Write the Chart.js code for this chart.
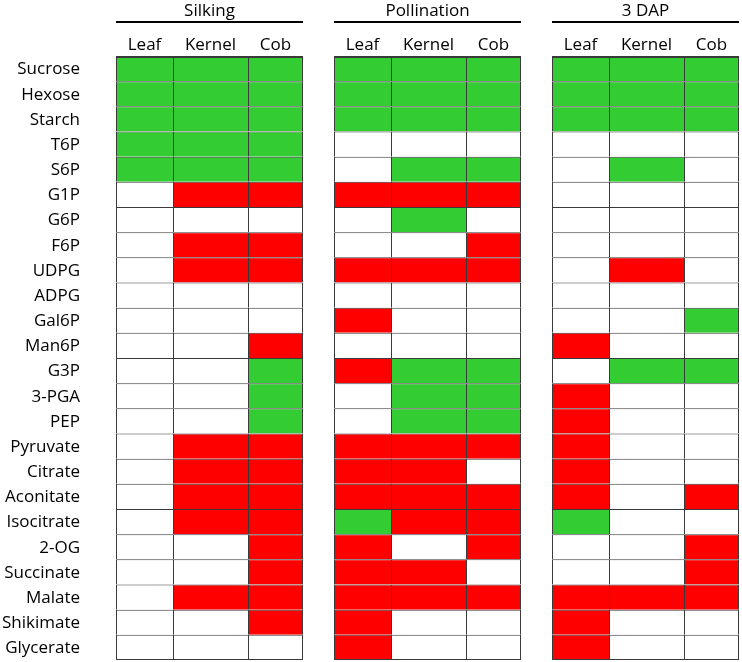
<!DOCTYPE html>
<html><head><meta charset="utf-8">
<script src="https://cdn.jsdelivr.net/npm/chart.js@4/dist/chart.umd.min.js"></script>
<style>html,body{margin:0;padding:0;background:#fff;}canvas{display:block;}</style>
</head><body>
<canvas id="c" width="742" height="662"></canvas>
<script>
// ---- DATA ----
const metabolites = ['Sucrose','Hexose','Starch','T6P','S6P','G1P','G6P','F6P','UDPG','ADPG','Gal6P','Man6P','G3P','3-PGA','PEP','Pyruvate','Citrate','Aconitate','Isocitrate','2-OG','Succinate','Malate','Shikimate','Glycerate'];
const stages = ['Silking','Pollination','3 DAP'];
const tissues = ['Leaf','Kernel','Cob'];
// 1 = increase (green), -1 = decrease (red), 0 = no significant change (white)
const silkingLeaf      = [1,1,1,1,1, 0,0,0,0,0, 0,0,0,0,0, 0,0,0,0,0, 0,0,0,0];
const silkingKernel    = [1,1,1,1,1,-1,0,-1,-1,0, 0,0,0,0,0,-1,-1,-1,-1,0, 0,-1,0,0];
const silkingCob       = [1,1,1,1,1,-1,0,-1,-1,0, 0,-1,1,1,1,-1,-1,-1,-1,-1,-1,-1,-1,0];
const pollinationLeaf  = [1,1,1,0,0,-1,0,0,-1,0,-1,0,-1,0,0,-1,-1,-1,1,-1,-1,-1,-1,-1];
const pollinationKernel= [1,1,1,0,1,-1,1,0,-1,0, 0,0,1,1,1,-1,-1,-1,-1,0,-1,-1,0,0];
const pollinationCob   = [1,1,1,0,1,-1,0,-1,-1,0, 0,0,1,1,1,-1,0,-1,-1,-1,0,-1,0,0];
const dap3Leaf         = [1,1,1,0,0, 0,0,0,0,0, 0,-1,0,-1,-1,-1,-1,-1,1,0, 0,-1,-1,-1];
const dap3Kernel       = [1,1,1,0,1, 0,0,0,-1,0, 0,0,1,0,0, 0,0,0,0,0, 0,-1,0,0];
const dap3Cob          = [1,1,1,0,0, 0,0,0,0,0, 1,0,1,0,0, 0,0,-1,0,-1,-1,-1,0,0];
const columns = [
  [silkingLeaf, silkingKernel, silkingCob],
  [pollinationLeaf, pollinationKernel, pollinationCob],
  [dap3Leaf, dap3Kernel, dap3Cob]
];

// ---- LAYOUT / STYLE ----
const COL_W = [57, 75, 55];   // relative column widths (Leaf, Kernel, Cob)
const GAP = 31;               // gap between stage blocks
const FONT = '"Open Sans", Carlito, Lato, sans-serif';
const FSIZE = 17;
const COLORS = {'1':'#33CC33','-1':'#FF0000','0':'#FFFFFF'};
const GROUP_W = COL_W.reduce((a,b)=>a+b,0);
const TOTAL = 3*GROUP_W + 2*GAP;

const datasets = [];
const colCenters = [];
const groupSpans = [];
columns.forEach((grp, g) => {
  let start = g*(GROUP_W+GAP);
  groupSpans.push([start, start+GROUP_W]);
  grp.forEach((vals, t) => {
    const x0 = start, x1 = start + COL_W[t];
    colCenters.push((x0+x1)/2);
    datasets.push({
      label: stages[g] + ' ' + tissues[t],
      data: vals.map(() => [x0, x1]),
      backgroundColor: vals.map(v => COLORS[String(v)]),
      borderColor: '#3a3a3a',
      borderWidth: ctx => ({
        left: 1,
        top: ctx.dataIndex === 0 ? 2 : 1,
        right: t === 2 ? 1 : 0,
        bottom: ctx.dataIndex === metabolites.length-1 ? 1 : 0
      })
    });
    start = x1;
  });
});

const headerPlugin = {
  id: 'stageHeaders',
  afterDraw(chart) {
    const c = chart.ctx, xs = chart.scales.x;
    c.save();
    c.fillStyle = '#000';
    c.strokeStyle = '#000';
    c.font = FSIZE + 'px ' + FONT;
    c.textAlign = 'center';
    c.textBaseline = 'alphabetic';
    groupSpans.forEach((s, i) => {
      const a = xs.getPixelForValue(s[0]), b = xs.getPixelForValue(s[1]);
      c.fillText(stages[i], (a+b)/2, 16);
      c.lineWidth = 2;
      c.beginPath(); c.moveTo(a, 22); c.lineTo(b, 22); c.stroke();
    });
    c.restore();
  }
};

new Chart(document.getElementById('c'), {
  type: 'bar',
  data: { labels: metabolites, datasets },
  options: {
    indexAxis: 'y',
    responsive: false,
    animation: false,
    devicePixelRatio: 1,
    layout: { autoPadding: false, padding: { left: 0, right: 3, top: 0, bottom: 2 } },
    plugins: { legend: { display: false }, tooltip: { enabled: false } },
    datasets: { bar: { grouped: false, barPercentage: 1, categoryPercentage: 1, borderSkipped: false, inflateAmount: 0 } },
    scales: {
      x: {
        type: 'linear', position: 'top', min: 0, max: TOTAL,
        grid: { display: false, drawTicks: false }, border: { display: false },
        afterBuildTicks: s => { s.ticks = colCenters.map(v => ({ value: v })); },
        afterFit: s => { s.height = 56; s.paddingLeft = 0; s.paddingRight = 0; },
        ticks: { autoSkip: false, maxRotation: 0, padding: 1, color: '#000',
                 font: { family: FONT, size: FSIZE },
                 callback: (v, i) => tissues[i % 3] }
      },
      y: {
        type: 'category',
        grid: { display: false, drawTicks: false }, border: { display: false },
        afterFit: s => { s.width = 116; s.paddingTop = 0; s.paddingBottom = 0; },
        ticks: { padding: 36, labelOffset: 1, color: '#000', autoSkip: false, font: { family: FONT, size: FSIZE } }
      }
    }
  },
  plugins: [headerPlugin]
});
</script>
</body></html>
